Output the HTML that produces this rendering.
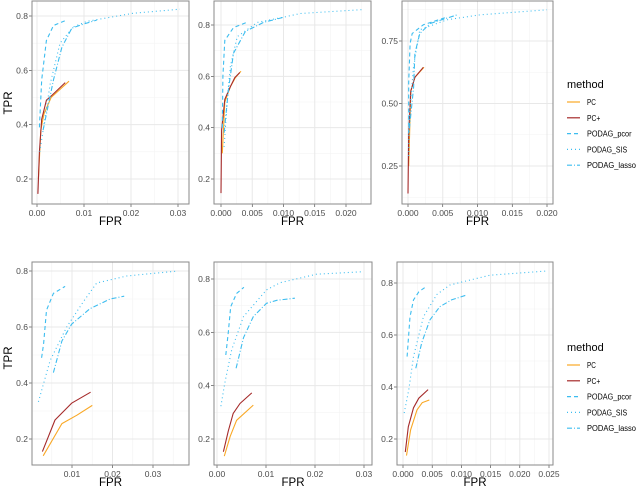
<!DOCTYPE html>
<html><head><meta charset="utf-8">
<style>
body{margin:0;background:#fff;}
svg{display:block;font-family:"Liberation Sans",sans-serif;}
</style></head>
<body>
<svg id="chart" width="640" height="487" viewBox="0 0 640 487"></svg>
<script>
// ---- data (FPR / TPR per panel, per method) ----
const methods = ["PC","PC+","PODAG_pcor","PODAG_SIS","PODAG_lasso"];
const p1_pc_fpr=[0.0003,0.0008,0.0015,0.003,0.0068], p1_pc_tpr=[0.2,0.38,0.44,0.5,0.56];
const p1_pcp_fpr=[0.0002,0.0005,0.001,0.002,0.003,0.006], p1_pcp_tpr=[0.145,0.3,0.42,0.49,0.505,0.555];
const p1_pcor_fpr=[0.0005,0.001,0.002,0.0035,0.0063], p1_pcor_tpr=[0.39,0.565,0.71,0.765,0.785];
const p1_sis_fpr=[0.0006,0.0028,0.0049,0.0077,0.0106,0.0204,0.0304], p1_sis_tpr=[0.3,0.55,0.7,0.76,0.78,0.81,0.825];
const p1_las_fpr=[0.0013,0.0035,0.0053,0.0074,0.0098,0.0127], p1_las_tpr=[0.38,0.565,0.685,0.755,0.77,0.785];

const p2_pc_fpr=[0.0002,0.0006,0.0015,0.0023,0.0032], p2_pc_tpr=[0.3,0.5,0.56,0.595,0.62];
const p2_pcp_fpr=[0,0.0001,0.0006,0.0015,0.0022,0.003], p2_pcp_tpr=[0.145,0.39,0.51,0.56,0.595,0.615];
const p2_pcor_fpr=[0.0002,0.0003,0.0006,0.002,0.0041], p2_pcor_tpr=[0.4,0.6,0.74,0.79,0.81];
const p2_sis_fpr=[0.0005,0.001,0.0015,0.0026,0.0058,0.0099,0.0127,0.0227], p2_sis_tpr=[0.325,0.51,0.64,0.755,0.81,0.83,0.845,0.86];
const p2_las_fpr=[0.0005,0.0012,0.002,0.0039,0.0068,0.01], p2_las_tpr=[0.38,0.55,0.69,0.775,0.81,0.83];

const p3_pc_fpr=[0.0001,0.0004,0.001,0.0023], p3_pc_tpr=[0.25,0.55,0.605,0.645];
const p3_pcp_fpr=[0,0.0001,0.0004,0.001,0.0022], p3_pcp_tpr=[0.14,0.38,0.55,0.605,0.645];
const p3_pcor_fpr=[0.0001,0.0001,0.0003,0.0006,0.0022,0.0055], p3_pcor_tpr=[0.38,0.582,0.74,0.78,0.815,0.845];
const p3_sis_fpr=[0.0001,0.0002,0.0008,0.0017,0.0056,0.0104,0.02], p3_sis_tpr=[0.29,0.45,0.65,0.795,0.835,0.855,0.875];
const p3_las_fpr=[0.0002,0.0008,0.001,0.0017,0.0032,0.0071], p3_las_tpr=[0.4,0.565,0.7,0.78,0.82,0.855];

const p4_pc_fpr=[0.0029,0.0075,0.0112,0.015], p4_pc_tpr=[0.14,0.255,0.285,0.32];
const p4_pcp_fpr=[0.0027,0.0058,0.0099,0.0146], p4_pcp_tpr=[0.155,0.268,0.328,0.367];
const p4_pcor_fpr=[0.0025,0.003,0.0037,0.0054,0.0083], p4_pcor_tpr=[0.49,0.54,0.66,0.72,0.745];
const p4_sis_fpr=[0.0017,0.0046,0.0087,0.0128,0.0161,0.0235,0.029,0.0362], p4_sis_tpr=[0.333,0.48,0.6,0.69,0.757,0.782,0.79,0.8];
const p4_las_fpr=[0.0054,0.0075,0.0099,0.0144,0.0194,0.0229], p4_las_tpr=[0.437,0.55,0.61,0.665,0.7,0.71];

const p5_pc_fpr=[0.0015,0.0027,0.004,0.0074], p5_pc_tpr=[0.136,0.21,0.27,0.327];
const p5_pcp_fpr=[0.0013,0.0023,0.0033,0.0047,0.0071], p5_pcp_tpr=[0.152,0.23,0.296,0.333,0.373];
const p5_pcor_fpr=[0.0018,0.0023,0.0028,0.004,0.0055], p5_pcor_tpr=[0.515,0.6,0.696,0.746,0.769];
const p5_sis_fpr=[0.0008,0.0016,0.003,0.0054,0.0101,0.0129,0.0203,0.0295], p5_sis_tpr=[0.323,0.41,0.535,0.659,0.759,0.786,0.818,0.827];
const p5_las_fpr=[0.0039,0.0054,0.0074,0.0101,0.0122,0.0159], p5_las_tpr=[0.465,0.58,0.659,0.709,0.72,0.728];

const p6_pc_fpr=[0.0006,0.0013,0.0024,0.0033,0.0045], p6_pc_tpr=[0.136,0.235,0.312,0.34,0.35];
const p6_pcp_fpr=[0.0004,0.0009,0.0018,0.0027,0.0043], p6_pcp_tpr=[0.15,0.247,0.32,0.357,0.39];
const p6_pcor_fpr=[0.0007,0.0012,0.0018,0.0027,0.0041], p6_pcor_tpr=[0.517,0.67,0.735,0.766,0.788];
const p6_sis_fpr=[0.0002,0.001,0.0018,0.0035,0.0058,0.008,0.0103,0.0149,0.0246], p6_sis_tpr=[0.3,0.39,0.517,0.67,0.756,0.792,0.805,0.83,0.846];
const p6_las_fpr=[0.0022,0.0032,0.0046,0.0063,0.0083,0.0109], p6_las_tpr=[0.472,0.57,0.658,0.709,0.735,0.754];

const xt1=[0,0.01,0.02,0.03], xl1=["0.00","0.01","0.02","0.03"];
const xt2=[0,0.005,0.01,0.015,0.02], xl2=["0.000","0.005","0.010","0.015","0.020"];
const xt4=[0.01,0.02,0.03], xl4=["0.01","0.02","0.03"];
const xt6=[0,0.005,0.01,0.015,0.02,0.025], xl6=["0.000","0.005","0.010","0.015","0.020","0.025"];
const yt=[0.2,0.4,0.6,0.8], yl=["0.2","0.4","0.6","0.8"];
const yt3=[0.25,0.5,0.75], yl3=["0.25","0.50","0.75"];

const NS="http://www.w3.org/2000/svg";
const svg=document.getElementById('chart');
const colors=["#f9a825","#a52a2a","#3cbdf0","#3cbdf0","#3cbdf0"];
const dashes=[null,null,"4,3","1,3","5,2,1,2"];
function mk(tag,attrs,parent){const e=document.createElementNS(NS,tag);for(const k in attrs)e.setAttribute(k,attrs[k]);(parent||svg).appendChild(e);return e;}

const panels=[
 {box:[32,1,189,204],xr:[0,37,0.03,178],yr:[0.2,179,0.8,16],xt:xt1,xl:xl1,yt:yt,yl:yl,
  s:[[p1_pc_fpr,p1_pc_tpr],[p1_pcp_fpr,p1_pcp_tpr],[p1_pcor_fpr,p1_pcor_tpr],[p1_sis_fpr,p1_sis_tpr],[p1_las_fpr,p1_las_tpr]]},
 {box:[214,1,371,204],xr:[0,221,0.02,346],yr:[0.2,179,0.8,25],xt:xt2,xl:xl2,yt:yt,yl:yl,
  s:[[p2_pc_fpr,p2_pc_tpr],[p2_pcp_fpr,p2_pcp_tpr],[p2_pcor_fpr,p2_pcor_tpr],[p2_sis_fpr,p2_sis_tpr],[p2_las_fpr,p2_las_tpr]]},
 {box:[402,1,553,204],xr:[0,408,0.02,547],yr:[0.25,166,0.75,41],xt:xt2,xl:xl2,yt:yt3,yl:yl3,
  s:[[p3_pc_fpr,p3_pc_tpr],[p3_pcp_fpr,p3_pcp_tpr],[p3_pcor_fpr,p3_pcor_tpr],[p3_sis_fpr,p3_sis_tpr],[p3_las_fpr,p3_las_tpr]]},
 {box:[32,262,189,465],xr:[0.01,72,0.03,153],yr:[0.2,439,0.8,271],xt:xt4,xl:xl4,yt:yt,yl:yl,
  s:[[p4_pc_fpr,p4_pc_tpr],[p4_pcp_fpr,p4_pcp_tpr],[p4_pcor_fpr,p4_pcor_tpr],[p4_sis_fpr,p4_sis_tpr],[p4_las_fpr,p4_las_tpr]]},
 {box:[214,262,372,465],xr:[0,217,0.03,364],yr:[0.2,439,0.8,279],xt:xt1,xl:xl1,yt:yt,yl:yl,
  s:[[p5_pc_fpr,p5_pc_tpr],[p5_pcp_fpr,p5_pcp_tpr],[p5_pcor_fpr,p5_pcor_tpr],[p5_sis_fpr,p5_sis_tpr],[p5_las_fpr,p5_las_tpr]]},
 {box:[397,262,553,465],xr:[0,403,0.025,549],yr:[0.2,439,0.8,283],xt:xt6,xl:xl6,yt:yt,yl:yl,
  s:[[p6_pc_fpr,p6_pc_tpr],[p6_pcp_fpr,p6_pcp_tpr],[p6_pcor_fpr,p6_pcor_tpr],[p6_sis_fpr,p6_sis_tpr],[p6_las_fpr,p6_las_tpr]]}
];

panels.forEach((p,pi)=>{
  const [x0,y0,x1,y1]=p.box;
  const sx=v=>p.xr[1]+(v-p.xr[0])*(p.xr[3]-p.xr[1])/(p.xr[2]-p.xr[0]);
  const sy=v=>p.yr[1]+(v-p.yr[0])*(p.yr[3]-p.yr[1])/(p.yr[2]-p.yr[0]);
  const g=mk('g',{});
  
  
  const dx=p.xt[1]-p.xt[0], dy=p.yt[1]-p.yt[0];
  for(let v=p.xt[0]-dx/2; v<=p.xt[p.xt.length-1]+dx; v+=dx){const X=sx(v); if(X>x0&&X<x1) mk('line',{x1:X,x2:X,y1:y0,y2:y1,stroke:'#f3f3f3','stroke-width':0.6},g);}
  for(let v=p.yt[0]-dy/2; v<=p.yt[p.yt.length-1]+dy; v+=dy){const Y=sy(v); if(Y>y0&&Y<y1) mk('line',{x1:x0,x2:x1,y1:Y,y2:Y,stroke:'#f3f3f3','stroke-width':0.6},g);}
  p.xt.forEach((v,i)=>{const X=sx(v);
    mk('line',{x1:X,x2:X,y1:y0,y2:y1,stroke:'#e8e8e8','stroke-width':1},g);
    mk('line',{x1:X,x2:X,y1:y1,y2:y1+3,stroke:'#333','stroke-width':0.6},g);
    const t=mk('text',{x:X,y:y1+12,'font-size':8.5,fill:'#4d4d4d','text-anchor':'middle'},g);t.textContent=p.xl[i];
    
    });
  p.yt.forEach((v,i)=>{const Y=sy(v);
    mk('line',{x1:x0,x2:x1,y1:Y,y2:Y,stroke:'#e8e8e8','stroke-width':1},g);
    mk('line',{x1:x0-3,x2:x0,y1:Y,y2:Y,stroke:'#333','stroke-width':0.6},g);
    const t=mk('text',{x:x0-4,y:Y+3,'font-size':8.5,fill:'#4d4d4d','text-anchor':'end'},g);t.textContent=p.yl[i];
    
    });
  p.s.forEach((s,si)=>{
    const pts=s[0].map((f,k)=>sx(f).toFixed(1)+','+sy(s[1][k]).toFixed(1)).join(' ');
    const a={points:pts,fill:'none',stroke:colors[si],'stroke-width':1.1,'stroke-linejoin':'round'};
    if(dashes[si])a['stroke-dasharray']=dashes[si];
    const l=mk('polyline',a,g);
    
    
  });
  mk('rect',{x:x0,y:y0,width:x1-x0,height:y1-y0,fill:'none',stroke:'#8a8a8a','stroke-width':1},g);
  const xt=mk('text',{x:(x0+x1)/2,y:y1+21,'font-size':11.5,fill:'#000','text-anchor':'middle'},g);xt.textContent='FPR';
  
  
});

[103,358].forEach(cy=>{
  const t=mk('text',{x:0,y:0,'font-size':11.5,fill:'#000','text-anchor':'middle',transform:'translate(12,'+cy+') rotate(-90)'});
  t.textContent='TPR';
  
  
});

[84,347].forEach((ly,li)=>{
  const g=mk('g',{});
  
  
  const h=mk('text',{x:567,y:ly+4,'font-size':11,fill:'#000'},g);h.textContent='method';
  methods.forEach((m,i)=>{
    const y=ly+18+i*15.8;
    const a={x1:567,x2:580,y1:y,y2:y,stroke:colors[i],'stroke-width':1.2};
    if(dashes[i])a['stroke-dasharray']=dashes[i];
    mk('line',a,g);
    const t=mk('text',{x:587,y:y+3,'font-size':8,fill:'#000',textLength:(m.length*4.45).toFixed(1),lengthAdjust:'spacingAndGlyphs'},g);t.textContent=m;
    
    
  });
});
</script>
</body></html>
